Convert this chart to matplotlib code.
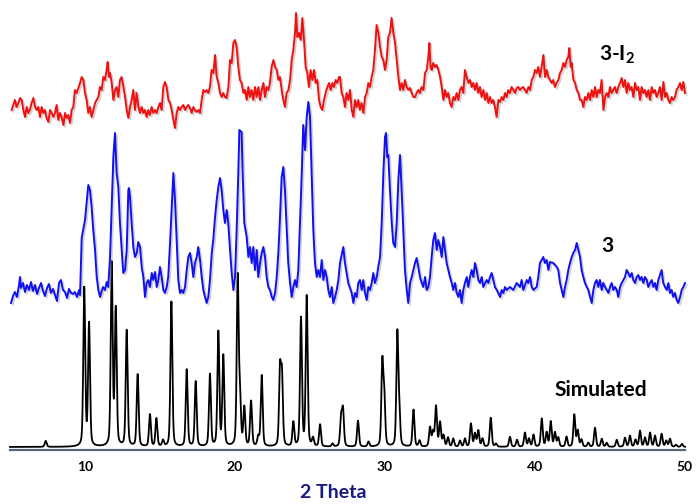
import numpy as np
import matplotlib.pyplot as plt
import matplotlib.patheffects as pe

plt.rcParams['font.family'] = ['Lato', 'DejaVu Sans']
plt.rcParams['mathtext.fontset'] = 'custom'
plt.rcParams['mathtext.bf'] = 'Lato:bold'
plt.rcParams['mathtext.rm'] = 'Lato:bold'

# simulated pattern: peak positions (2 theta) and heights (a.u.)
sim_pos = [7.38, 9.95, 10.27, 11.78, 12.05, 12.78, 13.51, 14.33, 14.76, 15.2,
           15.76, 16.78, 17.38, 18.33, 18.89, 19.22, 20.18, 20.33, 20.62, 21.07,
           21.55, 21.78, 23.0, 23.13, 23.89, 24.4, 24.78, 25.2, 25.67, 26.5,
           27.07, 27.2, 28.2, 28.9, 29.82, 29.95, 30.82, 30.95, 31.9, 32.3,
           33.0, 33.2, 33.4, 33.67, 33.9, 34.2, 34.55, 35.0, 35.33, 35.73,
           36.0, 36.22, 36.5, 37.05, 37.4, 38.33, 38.8, 39.33, 39.6, 39.9,
           40.45, 40.78, 41.05, 41.33, 41.55, 42.1, 42.62, 42.85, 43.1, 43.55,
           44.0, 44.45, 44.78, 45.45, 46.0, 46.33, 46.7, 47.0, 47.33, 47.67,
           48.0, 48.44, 48.75, 49.0, 49.4, 49.8]
sim_int = [6, 158, 122, 182, 136, 116, 72, 32, 28, 6,
           145, 77, 65, 72, 114, 90, 168, 46, 38, 45,
           9, 71, 74, 68, 24, 128, 150, 8, 22, 3,
           28, 36, 26, 5, 82, 48, 112, 32, 37, 6,
           19, 14, 40, 24, 11, 9, 8, 6, 8, 23,
           13, 16, 8, 29, 3, 10, 7, 14, 8, 12,
           28, 14, 25, 14, 9, 10, 32, 16, 7, 4,
           19, 8, 4, 7, 9, 11, 7, 16, 9, 14,
           11, 13, 6, 8, 2, 3]

# compound 3 (blue), measured trace
blue_tt = [5.07, 5.2, 5.33, 5.47, 5.6, 5.67, 5.73, 5.87, 6.0, 6.13, 6.27, 6.4, 6.53, 6.67, 6.8, 6.93,
           7.07, 7.2, 7.33, 7.47, 7.6, 7.73, 7.87, 8.0, 8.13, 8.27, 8.4, 8.53, 8.67, 8.8, 8.93,
           9.07, 9.2, 9.33, 9.47, 9.6, 9.67, 9.78, 10.0, 10.22, 10.33, 10.44, 10.55, 10.67, 10.78,
           10.89, 11.0, 11.2, 11.33, 11.45, 11.55, 11.67, 11.78, 11.89, 12.0, 12.11, 12.22, 12.33,
           12.45, 12.55, 12.67, 12.78, 12.89, 12.93, 13.0, 13.11, 13.22, 13.33, 13.45, 13.55, 13.67,
           13.78, 13.89, 14.0, 14.11, 14.22, 14.33, 14.45, 14.55, 14.67, 14.78, 14.89, 15.0, 15.11,
           15.22, 15.33, 15.45, 15.55, 15.67, 15.78, 15.89, 16.0, 16.11, 16.22, 16.33, 16.45, 16.55,
           16.67, 16.78, 16.89, 17.0, 17.11, 17.22, 17.33, 17.45, 17.55, 17.67, 17.78, 17.89, 18.0,
           18.11, 18.22, 18.33, 18.45, 18.55, 18.67, 18.78, 18.89, 19.0, 19.11, 19.22, 19.33, 19.45,
           19.55, 19.67, 19.78, 19.89, 20.0, 20.11, 20.22, 20.29, 20.44, 20.51, 20.62, 20.78, 20.89,
           21.0, 21.11, 21.22, 21.33, 21.45, 21.55, 21.67, 21.78, 21.89, 22.0, 22.11, 22.22, 22.33,
           22.45, 22.55, 22.67, 22.78, 22.89, 23.0, 23.11, 23.22, 23.33, 23.45, 23.55, 23.67, 23.78,
           23.89, 24.0, 24.11, 24.22, 24.33, 24.45, 24.55, 24.67, 24.78, 24.89, 25.0, 25.11, 25.22,
           25.33, 25.45, 25.55, 25.67, 25.78, 25.89, 26.0, 26.11, 26.22, 26.33, 26.45, 26.55, 26.67,
           26.78, 26.89, 27.0, 27.22, 27.33, 27.55, 27.78, 27.89, 28.0, 28.11, 28.22, 28.33, 28.45,
           28.55, 28.67, 28.78, 28.89, 29.0, 29.11, 29.22, 29.33, 29.45, 29.55, 29.67, 29.78, 29.89,
           30.0, 30.07, 30.15, 30.22, 30.33, 30.45, 30.55, 30.67, 30.78, 30.89, 31.0, 31.11, 31.22,
           31.33, 31.45, 31.55, 31.67, 31.78, 31.89, 32.0, 32.11, 32.22, 32.33, 32.45, 32.55, 32.67,
           32.78, 32.89, 33.0, 33.11, 33.22, 33.33, 33.45, 33.55, 33.67, 33.78, 33.89, 34.0, 34.11,
           34.22, 34.33, 34.45, 34.55, 34.67, 34.78, 34.89, 35.0, 35.11, 35.22, 35.33, 35.45, 35.55,
           35.67, 35.78, 35.89, 36.0, 36.11, 36.22, 36.33, 36.45, 36.55, 36.78, 36.89, 37.0, 37.11,
           37.22, 37.33, 37.45, 37.55, 37.67, 37.78, 37.89, 38.0, 38.11, 38.33, 38.55, 38.78, 39.0,
           39.11, 39.22, 39.45, 39.55, 39.67, 39.78, 39.89, 40.11, 40.22, 40.33, 40.45, 40.55, 40.67,
           40.78, 40.89, 41.0, 41.22, 41.45, 41.55, 41.67, 41.78, 41.89, 42.0, 42.11, 42.22, 42.33,
           42.45, 42.55, 42.67, 42.78, 42.89, 43.0, 43.11, 43.22, 43.33, 43.45, 43.55, 43.67, 43.78,
           43.89, 44.0, 44.11, 44.22, 44.33, 44.45, 44.55, 44.67, 44.78, 44.89, 45.0, 45.11, 45.22,
           45.33, 45.45, 45.55, 45.67, 45.78, 45.89, 46.0, 46.11, 46.22, 46.33, 46.45, 46.55, 46.67,
           46.78, 46.89, 47.0, 47.11, 47.22, 47.33, 47.45, 47.55, 47.67, 47.78, 47.89, 48.0, 48.11,
           48.22, 48.44, 48.55, 48.67, 48.78, 48.89, 49.0, 49.11, 49.22, 49.33, 49.45, 49.55, 49.67,
           49.78, 49.89, 50.0]
blue_int = [147, 154, 158, 153, 165, 173, 162, 167, 158, 165, 160, 168, 159, 165, 156, 162,
            167, 159, 154, 162, 166, 157, 161, 155, 149, 167, 170, 160, 158, 152, 161,
            157, 156, 158, 153, 160, 155, 212, 230, 265, 260, 243, 220, 200, 173,
            160, 153, 163, 160, 168, 163, 193, 243, 293, 317, 277, 263, 227,
            200, 177, 180, 200, 260, 262, 253, 227, 203, 193, 197, 208, 203,
            183, 173, 153, 167, 170, 163, 177, 170, 178, 163, 170, 183, 173,
            160, 157, 163, 173, 207, 243, 277, 250, 210, 170, 157, 160, 157,
            163, 180, 193, 197, 187, 173, 187, 193, 203, 190, 173, 160, 153,
            147, 153, 170, 197, 210, 233, 250, 263, 272, 260, 240, 227, 240,
            227, 200, 177, 160, 173, 220, 277, 320, 318, 277, 227, 213, 193,
            203, 187, 203, 180, 200, 173, 187, 197, 203, 193, 173, 163, 160,
            153, 150, 157, 173, 197, 233, 273, 283, 260, 220, 187, 167, 153,
            163, 170, 163, 180, 227, 277, 325, 300, 333, 348, 333, 277, 220,
            187, 173, 180, 173, 190, 170, 180, 173, 160, 153, 163, 147, 153,
            160, 170, 187, 203, 187, 167, 157, 147, 157, 153, 167, 170, 160,
            170, 157, 150, 163, 160, 167, 177, 167, 173, 183, 193, 227, 277,
            313, 317, 293, 295, 260, 227, 207, 203, 227, 270, 295, 260, 220,
            180, 160, 147, 167, 173, 180, 187, 192, 183, 173, 167, 163, 173,
            160, 163, 173, 193, 210, 217, 200, 210, 203, 193, 213, 200, 187,
            180, 173, 167, 160, 167, 157, 153, 160, 147, 160, 167, 173, 163,
            173, 180, 173, 187, 180, 170, 167, 173, 163, 170, 167, 173, 177,
            170, 163, 160, 157, 153, 160, 157, 163, 160, 163, 160, 167, 163,
            170, 160, 170, 167, 173, 163, 160, 163, 173, 187, 190, 193, 187,
            190, 180, 188, 187, 183, 180, 167, 160, 153, 163, 170, 180, 187,
            193, 197, 200, 207, 200, 193, 180, 173, 167, 163, 160, 153, 147,
            160, 167, 170, 163, 170, 160, 167, 163, 160, 157, 163, 167, 160,
            163, 160, 153, 163, 167, 170, 173, 180, 177, 173, 177, 170, 167,
            173, 175, 170, 173, 167, 173, 170, 163, 167, 170, 163, 167, 160,
            170, 180, 167, 163, 160, 167, 157, 160, 153, 157, 150, 147, 153,
            160, 163, 167]

# compound 3-I2 (red), measured trace
red_tt = [5.11, 5.33, 5.44, 5.56, 5.67, 5.78, 5.89, 6.0, 6.11, 6.22, 6.33, 6.44, 6.56, 6.67, 6.78,
          6.89, 7.0, 7.11, 7.22, 7.33, 7.44, 7.56, 7.67, 7.78, 7.89, 8.0, 8.11, 8.22, 8.33, 8.44,
          8.56, 8.67, 8.78, 8.89, 9.0, 9.11, 9.22, 9.33, 9.44, 9.56, 9.67, 9.78, 9.89, 10.0, 10.11,
          10.22, 10.33, 10.44, 10.56, 10.67, 10.78, 10.89, 11.0, 11.11, 11.22, 11.33, 11.44, 11.51,
          11.6, 11.67, 11.78, 11.89, 12.0, 12.11, 12.22, 12.33, 12.44, 12.56, 12.67, 12.78, 12.89,
          13.0, 13.11, 13.22, 13.33, 13.44, 13.56, 13.67, 13.78, 13.89, 14.0, 14.11, 14.22, 14.33,
          14.44, 14.56, 14.67, 14.78, 14.89, 15.0, 15.11, 15.22, 15.33, 15.44, 15.56, 15.67, 15.78,
          15.89, 16.0, 16.11, 16.22, 16.33, 16.44, 16.56, 16.67, 16.78, 16.89, 17.0, 17.11, 17.22,
          17.33, 17.44, 17.56, 17.67, 17.78, 17.89, 18.0, 18.11, 18.22, 18.33, 18.44, 18.56, 18.67,
          18.78, 18.89, 19.0, 19.11, 19.22, 19.33, 19.44, 19.56, 19.67, 19.78, 19.89, 20.0, 20.11,
          20.22, 20.33, 20.44, 20.56, 20.67, 20.78, 20.89, 21.0, 21.11, 21.22, 21.33, 21.44, 21.56,
          21.67, 21.78, 21.89, 22.0, 22.11, 22.22, 22.33, 22.44, 22.56, 22.67, 22.78, 22.89, 23.0,
          23.11, 23.22, 23.33, 23.44, 23.56, 23.67, 23.78, 23.89, 24.0, 24.07, 24.16, 24.27, 24.38,
          24.49, 24.6, 24.71, 24.82, 24.93, 25.04, 25.16, 25.27, 25.38, 25.49, 25.6, 25.71, 25.82,
          25.93, 26.04, 26.16, 26.27, 26.38, 26.49, 26.6, 26.71, 26.82, 26.93, 27.0, 27.11, 27.22,
          27.33, 27.44, 27.56, 27.67, 27.78, 27.89, 28.0, 28.11, 28.22, 28.33, 28.44, 28.56, 28.67,
          28.78, 28.89, 29.0, 29.11, 29.22, 29.33, 29.44, 29.56, 29.67, 29.78, 29.89, 30.0, 30.11,
          30.22, 30.33, 30.44, 30.56, 30.67, 30.78, 30.89, 31.0, 31.11, 31.22, 31.33, 31.44, 31.56,
          31.67, 31.78, 31.89, 32.0, 32.11, 32.22, 32.33, 32.44, 32.56, 32.67, 32.78, 32.89, 32.96,
          33.04, 33.11, 33.22, 33.33, 33.44, 33.56, 33.67, 33.78, 33.89, 34.0, 34.11, 34.22, 34.33,
          34.44, 34.56, 34.67, 34.78, 34.89, 35.0, 35.11, 35.22, 35.33, 35.44, 35.56, 35.67, 35.78,
          35.89, 36.0, 36.11, 36.22, 36.33, 36.44, 36.56, 36.67, 36.78, 36.89, 37.0, 37.11, 37.22,
          37.33, 37.44, 37.56, 37.67, 37.78, 37.89, 38.0, 38.11, 38.22, 38.33, 38.44, 38.56, 38.67,
          38.78, 38.89, 39.0, 39.11, 39.22, 39.33, 39.44, 39.56, 39.67, 39.78, 39.89, 40.0, 40.11,
          40.22, 40.33, 40.44, 40.56, 40.67, 40.78, 40.89, 41.0, 41.11, 41.22, 41.33, 41.44, 41.56,
          41.67, 41.78, 41.89, 42.0, 42.11, 42.22, 42.29, 42.38, 42.44, 42.56, 42.67, 42.78, 42.89,
          43.0, 43.11, 43.22, 43.33, 43.44, 43.56, 43.67, 43.78, 43.89, 44.0, 44.11, 44.22, 44.33,
          44.44, 44.56, 44.67, 44.78, 44.89, 45.0, 45.11, 45.22, 45.33, 45.44, 45.56, 45.67, 45.78,
          45.89, 46.0, 46.11, 46.22, 46.33, 46.44, 46.56, 46.67, 46.78, 46.89, 47.0, 47.11, 47.22,
          47.33, 47.44, 47.56, 47.67, 47.78, 47.89, 48.0, 48.11, 48.22, 48.33, 48.44, 48.56, 48.67,
          48.78, 48.89, 49.0, 49.11, 49.22, 49.33, 49.44, 49.56, 49.67, 49.78, 49.89, 50.0]
red_int = [340, 350, 343, 347, 352, 350, 340, 333, 343, 337, 340, 347, 352, 343, 340,
           343, 333, 343, 337, 340, 332, 328, 340, 337, 333, 337, 345, 330, 337, 333,
           325, 337, 332, 335, 327, 340, 343, 360, 357, 362, 367, 373, 370, 357, 350,
           337, 343, 333, 340, 347, 350, 353, 363, 360, 373, 370, 380, 388,
           373, 377, 367, 350, 360, 363, 353, 370, 373, 363, 353, 340, 332,
           343, 350, 360, 340, 357, 343, 337, 343, 337, 340, 333, 340, 335,
           343, 337, 340, 337, 343, 347, 340, 363, 368, 363, 350, 347, 340,
           330, 322, 337, 343, 340, 343, 345, 340, 343, 345, 342, 337, 343,
           340, 338, 340, 337, 350, 360, 358, 360, 357, 363, 380, 377, 395,
           373, 367, 357, 353, 357, 353, 352, 363, 390, 387, 407, 410, 403,
           383, 370, 367, 357, 360, 350, 363, 353, 360, 350, 363, 353, 363,
           350, 360, 367, 353, 363, 360, 367, 383, 390, 383, 380, 370, 373,
           360, 350, 343, 357, 360, 370, 390, 400, 417, 437, 413, 417, 410,
           432, 410, 383, 377, 363, 380, 370, 380, 367, 370, 350, 343, 340,
           350, 357, 363, 367, 360, 367, 363, 370, 367, 373, 373, 357, 353,
           343, 357, 350, 360, 340, 333, 350, 343, 350, 340, 347, 337, 353,
           357, 367, 363, 373, 380, 400, 425, 417, 403, 393, 390, 380, 390,
           413, 417, 432, 417, 407, 390, 373, 360, 367, 360, 370, 363, 360,
           362, 357, 353, 353, 357, 360, 357, 363, 360, 377, 380, 393, 407,
           383, 380, 387, 383, 385, 380, 373, 363, 350, 360, 353, 357, 347,
           343, 353, 350, 357, 350, 360, 363, 357, 380, 373, 367, 370, 363,
           367, 360, 367, 357, 363, 353, 360, 350, 357, 347, 353, 347, 350,
           343, 333, 350, 348, 353, 350, 357, 353, 360, 357, 363, 360, 357,
           362, 363, 360, 362, 363, 360, 357, 363, 360, 370, 373, 380, 377,
           383, 373, 383, 395, 373, 380, 373, 370, 367, 370, 363, 367, 370,
           377, 380, 387, 383, 390, 393, 402, 383, 387, 370, 367, 360, 357,
           350, 350, 343, 353, 350, 357, 350, 360, 353, 363, 353, 360, 357,
           370, 340, 353, 357, 353, 363, 357, 360, 363, 357, 363, 367, 372,
           363, 370, 357, 367, 360, 363, 353, 367, 360, 363, 350, 363, 357,
           360, 353, 360, 350, 363, 357, 360, 353, 357, 363, 350, 368, 353,
           357, 350, 347, 353, 350, 353, 360, 363, 367, 360, 368, 357]

series_labels = ['Simulated', '3', '3-I$_\\mathbf{2}$']
sim_offset = 3


def pseudo_voigt(x, pos, amp, fwhm=0.15, eta=0.35):
    y = np.zeros_like(x)
    for p, a in zip(pos, amp):
        d = (x - p) / fwhm
        lor = 1.0 / (1.0 + 4 * d ** 2)
        gau = np.exp(-4 * np.log(2) * d ** 2)
        y += a * (eta * lor + (1 - eta) * gau)
    return y


tt = np.linspace(5, 50, 4501)
sim = pseudo_voigt(tt, sim_pos, sim_int) + sim_offset

fig = plt.figure(figsize=(6.97, 5.04), dpi=100)
ax = fig.add_axes([10 / 697, 54 / 504, 675 / 697, 450 / 504])

shadow = [pe.SimpleLineShadow(offset=(1.2, -1.2), shadow_color='0.5', alpha=0.35), pe.Normal()]
ax.plot(tt, sim, color='black', lw=1.3, clip_on=False)
ax.plot(blue_tt, blue_int, color='#1010f0', lw=1.4, clip_on=False, path_effects=shadow)
ax.plot(red_tt, red_int, color='#f01010', lw=1.4, clip_on=False, path_effects=shadow)

ax.set_xlim(5, 50)
ax.set_ylim(0, 450)
for s in ['left', 'right', 'top']:
    ax.spines[s].set_visible(False)
ax.spines['bottom'].set_color('#55677a')
ax.spines['bottom'].set_linewidth(1.6)
ax.set_yticks([])
ax.set_xticks([10, 20, 30, 40, 50])
ax.tick_params(axis='x', length=0, pad=8, labelsize=10)
for lab in ax.get_xticklabels():
    lab.set_fontweight('bold')

ax.text(41.33, 54, series_labels[0], fontsize=15, fontweight='bold', va='baseline')
ax.text(44.45, 198, series_labels[1], fontsize=15, fontweight='bold', va='baseline')
ax.text(44.27, 390, series_labels[2], fontsize=15, fontweight='bold', va='baseline')

fig.text(333 / 697, 1 - 492 / 504, '2 Theta', fontsize=14, fontweight='bold',
         color='#1a1a80', ha='center', va='center')

fig.savefig('out.png', dpi=100)
